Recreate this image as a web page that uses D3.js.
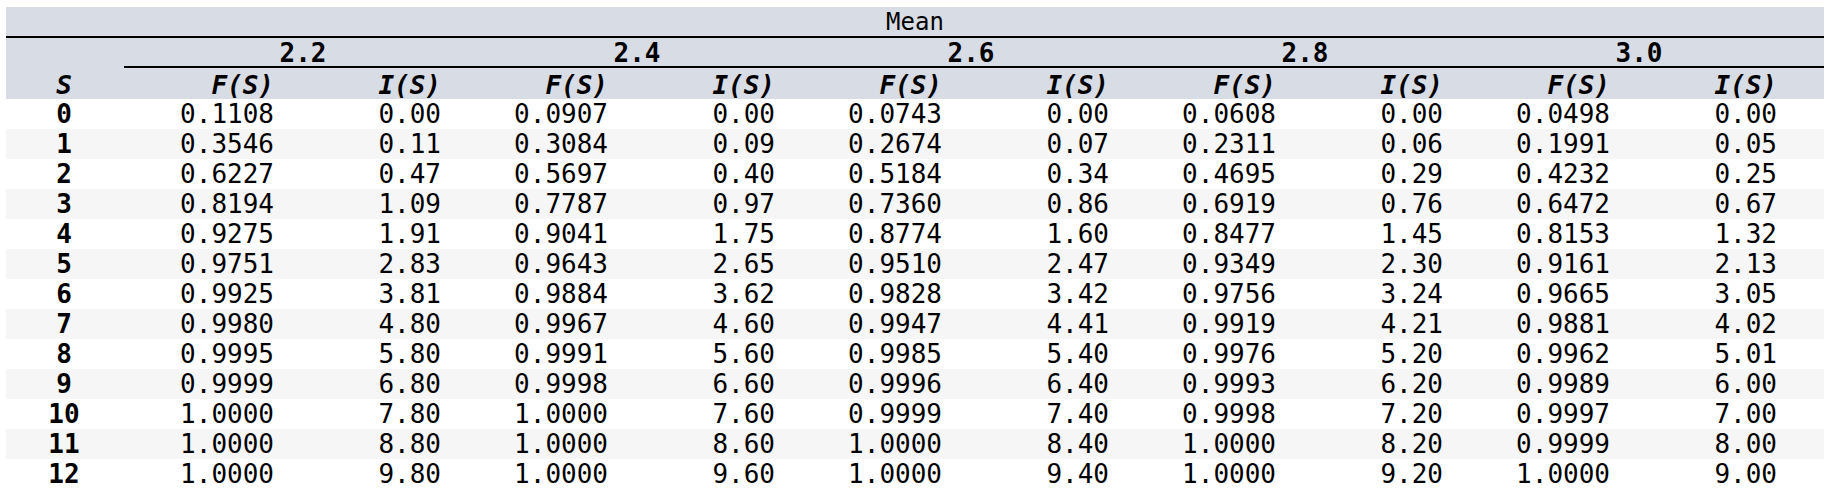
<!DOCTYPE html>
<html><head><meta charset="utf-8">
<script src="https://cdn.jsdelivr.net/npm/d3@7"></script>
<style>body{margin:0;background:#fff}text{font-family:"DejaVu Sans Mono",monospace}</style>
</head><body><svg id="chart"></svg>
<script>
const means = ["2.2", "2.4", "2.6", "2.8", "3.0"];
const sValues = [0, 1, 2, 3, 4, 5, 6, 7, 8, 9, 10, 11, 12];
const fValues = [
  [0.1108, 0.3546, 0.6227, 0.8194, 0.9275, 0.9751, 0.9925, 0.9980, 0.9995, 0.9999, 1.0000, 1.0000, 1.0000],
  [0.0907, 0.3084, 0.5697, 0.7787, 0.9041, 0.9643, 0.9884, 0.9967, 0.9991, 0.9998, 1.0000, 1.0000, 1.0000],
  [0.0743, 0.2674, 0.5184, 0.7360, 0.8774, 0.9510, 0.9828, 0.9947, 0.9985, 0.9996, 0.9999, 1.0000, 1.0000],
  [0.0608, 0.2311, 0.4695, 0.6919, 0.8477, 0.9349, 0.9756, 0.9919, 0.9976, 0.9993, 0.9998, 1.0000, 1.0000],
  [0.0498, 0.1991, 0.4232, 0.6472, 0.8153, 0.9161, 0.9665, 0.9881, 0.9962, 0.9989, 0.9997, 0.9999, 1.0000]
];
const iValues = [
  [0.00, 0.11, 0.47, 1.09, 1.91, 2.83, 3.81, 4.80, 5.80, 6.80, 7.80, 8.80, 9.80],
  [0.00, 0.09, 0.40, 0.97, 1.75, 2.65, 3.62, 4.60, 5.60, 6.60, 7.60, 8.60, 9.60],
  [0.00, 0.07, 0.34, 0.86, 1.60, 2.47, 3.42, 4.41, 5.40, 6.40, 7.40, 8.40, 9.40],
  [0.00, 0.06, 0.29, 0.76, 1.45, 2.30, 3.24, 4.21, 5.20, 6.20, 7.20, 8.20, 9.20],
  [0.00, 0.05, 0.25, 0.67, 1.32, 2.13, 3.05, 4.02, 5.01, 6.00, 7.00, 8.00, 9.00]
];

const W = 1830, H = 502, left = 6, right = 1824, sColW = 118;
const fs = 26;
const svg = d3.select("#chart").attr("width", W).attr("height", H);

const cols = [];
means.forEach((m, gi) => { cols.push({g: gi, k: "F"}); cols.push({g: gi, k: "I"}); });
const x = d3.scaleBand().domain(d3.range(cols.length)).range([left + sColW, left + sColW + 1670]);
const y = d3.scaleBand().domain(sValues).range([99, 489]);
const pad = 17;

svg.append("rect").attr("x", left).attr("y", 7).attr("width", right - left).attr("height", 92).attr("fill", "#d8dce5");
svg.selectAll(".stripe").data(sValues.filter((d, i) => i % 2 === 1)).enter().append("rect")
  .attr("x", left).attr("y", d => y(d)).attr("width", right - left).attr("height", y.bandwidth())
  .attr("fill", "#f6f6f6");

svg.append("text").attr("x", (left + right) / 2).attr("y", 30).attr("text-anchor", "middle")
  .attr("font-size", fs - 2).text("Mean");
svg.append("line").attr("x1", left).attr("x2", right).attr("y1", 37).attr("y2", 37).attr("stroke", "#000").attr("stroke-width", 2);
svg.append("line").attr("x1", left + sColW).attr("x2", right).attr("y1", 67).attr("y2", 67)
  .attr("stroke", "#000").attr("stroke-width", 2);

means.forEach((m, gi) => {
  const x0 = x(gi * 2), x1 = x(gi * 2 + 1) + x.bandwidth();
  svg.append("text").attr("x", (x0 + x1) / 2 + 12).attr("y", 62).attr("text-anchor", "middle")
    .attr("font-size", fs).attr("font-weight", "bold").text(m);
});

svg.append("text").attr("x", 64).attr("y", 94).attr("text-anchor", "middle").attr("font-size", fs)
  .attr("font-weight", "bold").attr("font-style", "italic").text("S");
svg.selectAll(".colhead").data(cols).enter().append("text")
  .attr("x", (d, i) => x(i) + x.bandwidth() - pad).attr("y", 94).attr("text-anchor", "end")
  .attr("font-size", fs).attr("font-weight", "bold").attr("font-style", "italic")
  .text(d => d.k + "(S)");

const rows = svg.selectAll(".row").data(sValues).enter().append("g")
  .attr("transform", d => `translate(0,${y(d) + y.bandwidth() / 2 + 9})`);
rows.append("text").attr("x", 64).attr("text-anchor", "middle").attr("font-size", fs)
  .attr("font-weight", "bold").text(d => d);
cols.forEach((c, ci) => {
  rows.append("text").attr("x", x(ci) + x.bandwidth() - pad).attr("text-anchor", "end").attr("font-size", fs)
    .text((d, ri) => c.k === "F" ? fValues[c.g][ri].toFixed(4) : iValues[c.g][ri].toFixed(2));
});
</script></body></html>
